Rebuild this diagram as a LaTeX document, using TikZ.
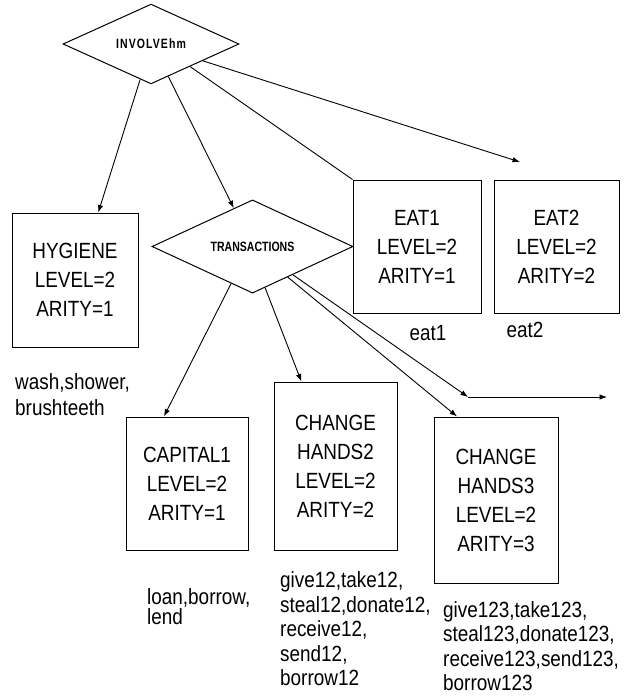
\documentclass[tikz,border=0pt]{standalone}
\usepackage{fontspec}
\setmainfont{Liberation Sans}
\newfontfamily\boxfont[FakeStretch=0.86]{Liberation Sans}
\newfontfamily\dmdfont[FakeStretch=0.78]{Liberation Sans}
\newfontfamily\dmdwidefont[FakeStretch=0.78,LetterSpace=8]{Liberation Sans}
\usetikzlibrary{shapes.geometric,arrows.meta}
\tikzset{
  lbox/.style={draw, line width=1pt, align=center, inner sep=0pt,
    font=\boxfont\fontsize{22}{29}\selectfont},
  dmd/.style={draw, diamond, line width=1pt, inner sep=0pt,
    font=\dmdfont\bfseries\fontsize{13.5}{14}\selectfont},
  conn/.style={line width=0.9pt, -{Latex[length=7.5pt,width=5.5pt]}},
  plain/.style={line width=0.9pt},
  lst/.style={align=left, anchor=west, inner sep=0pt,
    font=\boxfont\fontsize{22}{24.5}\selectfont},
  lbl/.style={inner sep=0pt, font=\boxfont\fontsize{22}{24.5}\selectfont}
}
\begin{document}
\begin{tikzpicture}[x=1pt,y=-1pt]
\useasboundingbox (0,0) rectangle (636,698);
\fill[white] (0,0) rectangle (636,698);

% diamonds
\node[dmd, minimum width=176pt, minimum height=66pt,
  font=\dmdwidefont\bfseries\fontsize{13.5}{14}\selectfont] (inv) at (151,44) {INVOLVEhm};
\node[dmd, minimum width=201pt, minimum height=67pt] (tr) at (252.5,246.5) {TRANSACTIONS};

% boxes
\node[lbox, minimum width=126pt, minimum height=134pt] (hyg) at (75,280) {HYGIENE\\LEVEL=2\\ARITY=1};
\node[lbox, minimum width=128pt, minimum height=133pt] (eat1) at (417,246.5) {EAT1\\LEVEL=2\\ARITY=1};
\node[lbox, minimum width=125pt, minimum height=133pt] (eat2) at (556.5,246.5) {EAT2\\LEVEL=2\\ARITY=2};
\node[lbox, minimum width=122pt, minimum height=133pt] (cap) at (187,483.5) {CAPITAL1\\LEVEL=2\\ARITY=1};
\node[lbox, minimum width=123pt, minimum height=168pt] (ch2) at (335.5,466) {CHANGE\\HANDS2\\LEVEL=2\\ARITY=2};
\node[lbox, minimum width=124pt, minimum height=166pt] (ch3) at (496,500) {CHANGE\\HANDS3\\LEVEL=2\\ARITY=3};

% free ends
\coordinate (f1) at (520,162);
\coordinate (f2) at (468,397);
\coordinate (f3) at (607,397);

% connectors
\draw[conn] (inv.253) -- (hyg.71);
\draw[conn] (inv.298) -- (tr.116);
\draw[plain] (inv.330) -- (eat1.north west);
\draw[conn] (inv.342) -- (f1);
\draw[conn] (tr.240) -- (cap.109);
\draw[conn] (tr.287) -- (ch2.112);
\draw[conn] (tr.319.5) -- (ch3.115);
\draw[conn] (tr.325) -- (f2);
\draw[conn] (f2) -- (f3);

% labels
\node[lst] (lhyg) at (15,395) {wash,shower,\\[1.5pt]brushteeth};
\node[lbl] (leat1) at (428,333) {eat1};
\node[lbl] (leat2) at (525,330) {eat2};
\node[lst, font=\boxfont\fontsize{22}{20}\selectfont] (lcap) at (147,607) {loan,borrow,\\lend};
\node[lst] (lch2) at (280,629) {give12,take12,\\steal12,donate12,\\receive12,\\send12,\\borrow12};
\node[lst] (lch3) at (443,646) {give123,take123,\\steal123,donate123,\\receive123,send123,\\borrow123};
\end{tikzpicture}
\end{document}
